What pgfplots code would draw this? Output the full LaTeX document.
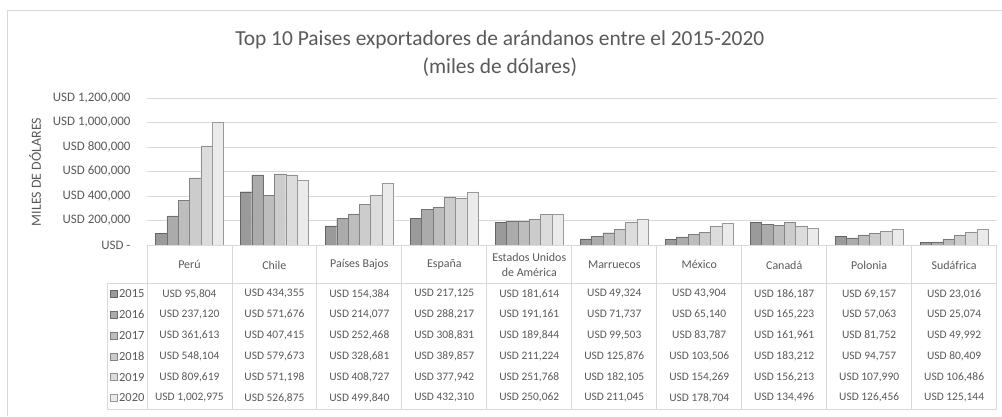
\documentclass[border=0pt]{standalone}
\usepackage{fontspec}
\setmainfont{Carlito}
\usepackage{pgfplots}
\usepackage{pgfplotstable}
\pgfplotsset{compat=1.18}

\definecolor{txt}{HTML}{595959}
\definecolor{gridc}{HTML}{D9D9D9}
\definecolor{c15}{HTML}{9A9A9A}
\definecolor{c16}{HTML}{ABABAB}
\definecolor{c17}{HTML}{BDBDBD}
\definecolor{c18}{HTML}{CCCCCC}
\definecolor{c19}{HTML}{DCDCDC}
\definecolor{c20}{HTML}{EBEBEB}

% exportaciones (miles de USD), una fila por pais
\pgfplotstableread{
x y15 y16 y17 y18 y19 y20
0 95804 237120 361613 548104 809619 1002975
1 434355 571676 407415 579673 571198 526875
2 154384 214077 252468 328681 408727 499840
3 217125 288217 308831 389857 377942 432310
4 181614 191161 189844 211224 251768 250062
5 49324 71737 99503 125876 182105 211045
6 43904 65140 83787 103506 154269 178704
7 186187 165223 161961 183212 156213 134496
8 69157 57063 81752 94757 107990 126456
9 23016 25074 49992 80409 106486 125144
}\datos

\begin{document}
\begin{tikzpicture}
\begin{scope}[x=1bp,y=1bp]
\path (0,0) rectangle (1002,416);
\draw[gridc, line width=0.8bp] (7,0) -- (7,406) -- (1002,406);

\node[text=txt, font=\fontsize{21.5}{28}\selectfont, align=center] at (500,362)
  {Top 10 Paises exportadores de arándanos entre el 2015-2020\\(miles de dólares)};
\end{scope}

\begin{axis}[
  at={(147bp,171bp)}, anchor=south west,
  scale only axis, width=850bp, height=147bp,
  xmin=-0.5, xmax=9.5, ymin=0, ymax=1200000,
  ybar=0pt, bar width=11.33bp,
  axis line style={draw=none},
  xtick=\empty,
  ytick={0,200000,400000,600000,800000,1000000,1200000},
  yticklabels={{USD -},{USD 200,000},{USD 400,000},{USD 600,000},{USD 800,000},{USD 1,000,000},{USD 1,200,000}},
  scaled y ticks=false,
  major tick length=0pt,
  ymajorgrids,
  grid style={gridc, line width=0.8bp},
  yticklabel style={text=txt, font=\fontsize{13}{15}\selectfont, xshift=-13bp},
]
\addplot[fill=c15, draw=c15!65!black] table[x=x, y=y15] {\datos};
\addplot[fill=c16, draw=c16!65!black] table[x=x, y=y16] {\datos};
\addplot[fill=c17, draw=c17!65!black] table[x=x, y=y17] {\datos};
\addplot[fill=c18, draw=c18!65!black] table[x=x, y=y18] {\datos};
\addplot[fill=c19, draw=c19!65!black] table[x=x, y=y19] {\datos};
\addplot[fill=c20, draw=c20!65!black] table[x=x, y=y20] {\datos};
\end{axis}

\begin{scope}[x=1bp,y=1bp]
\node[text=txt, rotate=90, font=\fontsize{14}{16}\selectfont] at (35,244) {MILES DE DÓLARES};

% tabla de datos
\begin{scope}[draw=gridc, line width=0.8bp]
  \foreach \k in {0,...,10} \draw ({147+85*\k},171) -- ({147+85*\k},6);
  \draw (107,132) -- (997,132);
  \draw (107,6) -- (997,6);
  \draw (107,132) -- (107,6);
\end{scope}

\foreach \n [count=\i from 0] in {Perú, Chile, Países Bajos, España, {Estados Unidos\\de América}, Marruecos, México, Canadá, Polonia, Sudáfrica}
  \node[text=txt, align=center, font=\fontsize{12}{15}\selectfont] at ({189.5+85*\i},151) {\n};

\pgfkeys{/pgf/number format/.cd, fixed, precision=0, 1000 sep={,}, assume math mode=true}
\foreach \yr [count=\r from 0] in {15,...,20} {
  \foreach \c in {0,...,9} {
    \pgfplotstablegetelem{\c}{y\yr}\of\datos
    \let\v\pgfplotsretval
    \node[text=txt, font=\fontsize{11.5}{14}\selectfont] at ({189.5+85*\c},{122-20.8*\r}) {USD \pgfmathprintnumber{\v}};
  }
}

\foreach \yr/\col [count=\r from 0] in {2015/c15, 2016/c16, 2017/c17, 2018/c18, 2019/c19, 2020/c20} {
  \filldraw[fill=\col, draw=\col!65!black, line width=0.5bp] (110,{122-20.8*\r-3.5}) rectangle +(7,7);
  \node[text=txt, anchor=west, inner sep=1bp, font=\fontsize{12.5}{14}\selectfont] at (118,{122-20.8*\r}) {\yr};
}
\end{scope}
\end{tikzpicture}
\end{document}
